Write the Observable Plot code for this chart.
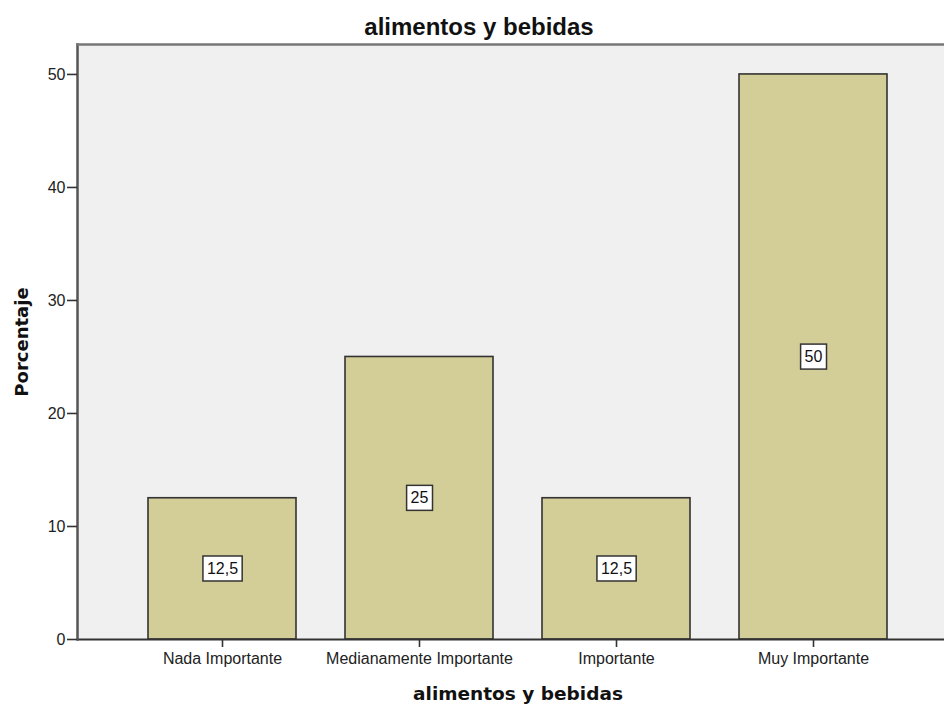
<!DOCTYPE html>
<html>
<head>
<meta charset="utf-8">
<script src="https://cdn.jsdelivr.net/npm/d3@7"></script>
<script src="https://cdn.jsdelivr.net/npm/@observablehq/plot@0.6"></script>
<style>
  html, body { margin: 0; padding: 0; background: #fff; overflow: hidden; }
</style>
</head>
<body>
<div id="chart"></div>
<script>
const categories = ["Nada Importante", "Medianamente Importante", "Importante", "Muy Importante"];
const percents = [12.5, 25, 12.5, 50];
const valueLabels = ["12,5", "25", "12,5", "50"];
const yTicks = [0, 10, 20, 30, 40, 50];
const yMax = 52.65;
const chartTitle = "alimentos y bebidas";
const xTitle = "alimentos y bebidas";
const yTitle = "Porcentaje";

const data = categories.map((c, i) => ({cat: c, pct: percents[i], label: valueLabels[i]}));

const chart = Plot.plot({
  width: 944,
  height: 704,
  marginLeft: 77,
  marginRight: 0,
  marginTop: 44,
  marginBottom: 65,
  style: {fontFamily: "'Liberation Sans', Arial, sans-serif", fontSize: "16px", background: "#fff", color: "#222"},
  x: {domain: categories, range: [77, 958], paddingInner: 0.25, paddingOuter: 0.354, align: 0.5},
  y: {domain: [0, yMax]},
  marks: [
    Plot.frame({fill: "#f0f0f0", stroke: null}),
    Plot.barY(data, {x: "cat", y: "pct", fill: "#d3ce98", stroke: "#333", strokeWidth: 1.6}),
    Plot.ruleY([0], {stroke: "#333", strokeWidth: 2}),
    Plot.frame({anchor: "left", stroke: "#555", strokeWidth: 2.5}),
    Plot.frame({anchor: "top", stroke: "#777", strokeWidth: 2.5}),
    Plot.axisY({ticks: yTicks, tickSize: 10, tickPadding: 2, label: null, stroke: "#333", strokeWidth: 1.6, fill: "#222", fontSize: 16}),
    Plot.axisX({tickSize: 8, tickPadding: 5, label: null, stroke: "#333", strokeWidth: 1.6, fill: "#222", fontSize: 16}),
    Plot.text(data, {x: "cat", y: d => d.pct / 2, text: "label", fontSize: 16, fill: "#111", lineAnchor: "middle", className: "vlabel"}),
    Plot.text([chartTitle], {frameAnchor: "top", dx: -32, dy: -10, lineAnchor: "bottom", fontFamily: "'Liberation Sans', Arial, sans-serif", fontWeight: "bold", fontSize: 24, fill: "#111"}),
    Plot.text([xTitle], {frameAnchor: "bottom", dx: 7, dy: 60, lineAnchor: "bottom", fontFamily: "'DejaVu Sans', sans-serif", fontWeight: "bold", fontSize: 18.5, fill: "#111"}),
    Plot.text([yTitle], {frameAnchor: "left", rotate: -90, dx: -55, textAnchor: "middle", lineAnchor: "middle", fontFamily: "'DejaVu Sans', sans-serif", fontWeight: "bold", fontSize: 18, fill: "#111"})
  ]
});

document.getElementById("chart").appendChild(chart);

// add white boxes with dark border behind the value labels
d3.select(chart).selectAll("g.vlabel text").each(function() {
  const b = this.getBBox();
  const padX = 4, padY = 4;
  const parent = this.parentNode;
  const r = document.createElementNS("http://www.w3.org/2000/svg", "rect");
  r.setAttribute("x", b.x - padX);
  r.setAttribute("y", b.y - padY);
  r.setAttribute("width", b.width + 2 * padX);
  r.setAttribute("height", b.height + 2 * padY);
  r.setAttribute("fill", "#fff");
  r.setAttribute("stroke", "#333");
  r.setAttribute("stroke-width", 1.5);
  const t = this.getAttribute("transform");
  if (t) r.setAttribute("transform", t);
  parent.insertBefore(r, this);
});
</script>
</body>
</html>
